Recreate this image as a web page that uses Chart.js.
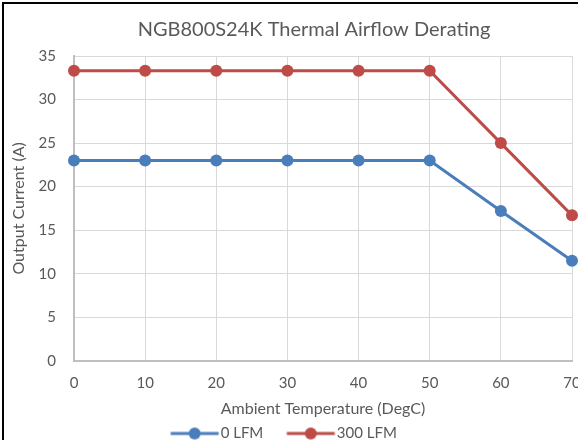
<!DOCTYPE html>
<html>
<head>
<meta charset="utf-8">
<script src="https://cdn.jsdelivr.net/npm/chart.js@4"></script>
<style>
  html, body { margin: 0; padding: 0; background: #fff; overflow: hidden; }
  body { width: 578px; height: 440px; position: relative; }
  #frame { position: absolute; left: 2px; top: 2px; width: 640px; height: 460px; border-left: 2px solid #000; border-top: 2px solid #000; }
  #wrap { position: absolute; left: 4px; top: 4px; width: 620px; height: 447px; }
</style>
</head>
<body>
<div id="frame"></div>
<div id="wrap"><canvas id="chart"></canvas></div>
<script>
const temperatures = [0, 10, 20, 30, 40, 50, 60, 70];
const current0Lfm = [23, 23, 23, 23, 23, 23, 17.2, 11.5];
const current300Lfm = [33.3, 33.3, 33.3, 33.3, 33.3, 33.3, 25, 16.7];
const seriesNames = ["0 LFM", "300 LFM"];
const seriesColors = ["#4a7ebb", "#be4b48"];

const FONT = "Lato, 'Open Sans', sans-serif";
const GREY_TEXT = "#595959";

// legend marker: line with a dot, with blank room on the left for item spacing
const GLYPH_W = 78;
const GLYPH_LINE_START = 27.5;
function legendGlyph(color) {
  const c = document.createElement("canvas");
  c.width = GLYPH_W;
  c.height = 14;
  const g = c.getContext("2d");
  g.strokeStyle = color;
  g.lineWidth = 3;
  g.beginPath();
  g.moveTo(GLYPH_LINE_START, 7);
  g.lineTo(GLYPH_LINE_START + 48, 7);
  g.stroke();
  g.fillStyle = color;
  g.beginPath();
  g.arc(GLYPH_LINE_START + 24, 7, 6, 0, Math.PI * 2);
  g.fill();
  return c;
}

function toPoints(values) {
  return temperatures.map((t, i) => ({ x: t, y: values[i] }));
}

// the legend in the original sits a little left of the chart centre
const legendShift = {
  id: "legendShift",
  afterLayout(chart) {
    if (chart.legend) chart.legend.right -= 80;
  }
};

new Chart(document.getElementById("chart"), {
  type: "line",
  data: {
    datasets: [current0Lfm, current300Lfm].map((values, i) => ({
      label: seriesNames[i],
      data: toPoints(values),
      borderColor: seriesColors[i],
      backgroundColor: seriesColors[i],
      borderWidth: 3,
      pointRadius: 6,
      pointHoverRadius: 6,
      pointBorderWidth: 0,
      tension: 0,
      clip: false
    }))
  },
  options: {
    responsive: true,
    maintainAspectRatio: false,
    animation: false,
    layout: { padding: 0 },
    plugins: {
      title: {
        display: true,
        text: "NGB800S24K Thermal Airflow Derating",
        color: GREY_TEXT,
        font: { family: FONT, size: 20, weight: "normal" },
        padding: { top: 14, bottom: 14 }
      },
      legend: {
        position: "bottom",
        labels: {
          color: GREY_TEXT,
          font: { family: FONT, size: 15 },
          usePointStyle: true,
          pointStyleWidth: 62,
          boxHeight: 14,
          padding: 4,
          generateLabels: (chart) => chart.data.datasets.map((ds, i) => ({
            text: ds.label,
            fontColor: GREY_TEXT,
            pointStyle: legendGlyph(ds.borderColor),
            lineWidth: 0,
            strokeStyle: "transparent",
            fillStyle: "transparent",
            datasetIndex: i
          }))
        }
      },
      tooltip: { enabled: false }
    },
    scales: {
      x: {
        type: "linear",
        min: 0,
        max: 70,
        ticks: { stepSize: 10, color: GREY_TEXT, font: { family: FONT, size: 15 }, padding: 13 },
        grid: { color: "#d9d9d9", lineWidth: 1, drawTicks: false },
        border: { color: "#bfbfbf", width: 2 },
        title: { display: true, text: "Ambient Temperature (DegC)", color: GREY_TEXT, font: { family: FONT, size: 16 }, padding: { top: -6, bottom: 4 } },
        afterFit: (scale) => { scale.paddingRight = 52; }
      },
      y: {
        min: 0,
        max: 35,
        ticks: { stepSize: 5, color: GREY_TEXT, font: { family: FONT, size: 15 }, padding: 18 },
        grid: { color: "#d9d9d9", lineWidth: 1, drawTicks: false },
        border: { color: "#bfbfbf", width: 2 },
        title: { display: true, text: "Output Current (A)", color: GREY_TEXT, font: { family: FONT, size: 16 }, padding: { top: 5, bottom: 0 } },
        afterFit: (scale) => { scale.width = 70; }
      }
    }
  },
  plugins: [legendShift]
});
</script>
</body>
</html>
